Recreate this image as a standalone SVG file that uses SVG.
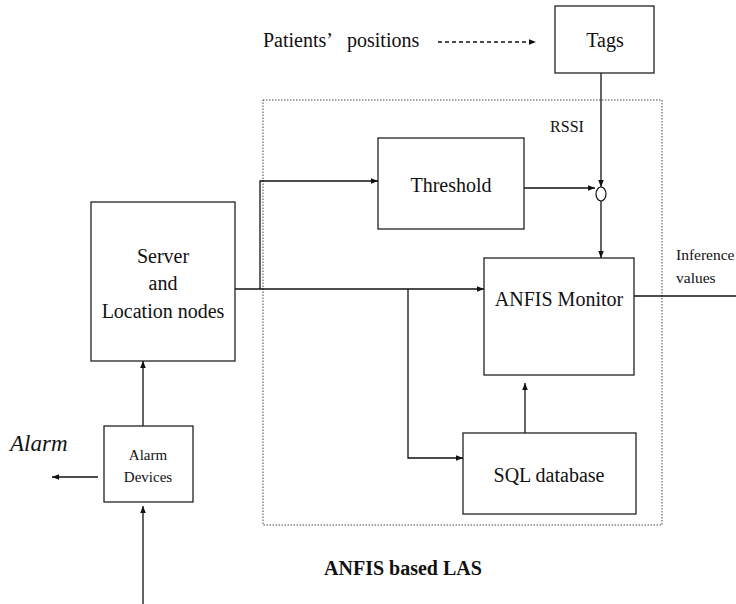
<svg xmlns="http://www.w3.org/2000/svg" width="736" height="604" viewBox="0 0 736 604">
<style>
.box{fill:#fff;stroke:#222;stroke-width:1.3}
.ln{fill:none;stroke:#111;stroke-width:1.3}
text{font-family:'Liberation Serif','DejaVu Serif',serif;fill:#111;text-anchor:middle}
.big{font-size:20px}
.sm{font-size:15.5px}
</style>
<defs>
<marker id="ah" viewBox="0 0 10 10" refX="10" refY="5" markerWidth="7" markerHeight="7" markerUnits="userSpaceOnUse" orient="auto">
<path d="M0,1 L10,5 L0,9 Z" fill="#111"/>
</marker>
</defs>
<rect x="263" y="100" width="399" height="425" fill="none" stroke="#444" stroke-width="1" stroke-dasharray="1.5,1.5"/>
<g id="connectors">
<line class="ln" x1="438" y1="42" x2="536" y2="42" stroke-dasharray="4,3" marker-end="url(#ah)"/>
<line class="ln" x1="601" y1="73" x2="601" y2="187" marker-end="url(#ah)"/>
<line class="ln" x1="524" y1="188" x2="595" y2="188" marker-end="url(#ah)"/>
<line class="ln" x1="601" y1="201" x2="601" y2="258" marker-end="url(#ah)"/>
<line class="ln" x1="235" y1="289" x2="484" y2="289" marker-end="url(#ah)"/>
<polyline class="ln" points="260,289 260,181 378,181" marker-end="url(#ah)"/>
<polyline class="ln" points="408,289 408,458 463,458" marker-end="url(#ah)"/>
<line class="ln" x1="525" y1="433" x2="525" y2="383" marker-end="url(#ah)"/>
<line class="ln" x1="634" y1="296" x2="736" y2="296"/>
<line class="ln" x1="143" y1="426" x2="143" y2="361" marker-end="url(#ah)"/>
<line class="ln" x1="98" y1="477" x2="52" y2="477" marker-end="url(#ah)"/>
<line class="ln" x1="143" y1="604" x2="143" y2="506" marker-end="url(#ah)"/>
</g>
<g id="patients">
<text class="big" x="263" y="47" style="text-anchor:start">Patients’<tspan x="347">positions</tspan></text>
</g>
<g id="tags">
<rect class="box" x="555" y="6" width="99" height="67"/>
<text class="big" x="605" y="47">Tags</text>
</g>
<g id="rssi">
<text x="567" y="132" font-size="16">RSSI</text>
</g>
<g id="threshold">
<rect class="box" x="378" y="138" width="146" height="91"/>
<text class="big" x="451" y="192">Threshold</text>
</g>
<g id="junction">
<ellipse cx="601" cy="194" rx="5" ry="7" fill="#fff" stroke="#111" stroke-width="1.2"/>
</g>
<g id="anfis">
<rect class="box" x="484" y="258" width="150" height="117"/>
<text class="big" x="559" y="306">ANFIS Monitor</text>
</g>
<g id="inference">
<text class="sm" x="676" y="260" style="text-anchor:start">Inference</text>
<text class="sm" x="676" y="283" style="text-anchor:start">values</text>
</g>
<g id="server">
<rect class="box" x="91" y="202" width="144" height="159"/>
<text class="big" x="163" y="263">Server</text>
<text class="big" x="163" y="290">and</text>
<text class="big" x="163" y="318">Location nodes</text>
</g>
<g id="sql">
<rect class="box" x="463" y="433" width="173" height="81"/>
<text class="big" x="549" y="482">SQL database</text>
</g>
<g id="alarmdev">
<rect class="box" x="104" y="426" width="89" height="76"/>
<text x="148" y="460" font-size="15">Alarm</text>
<text x="148" y="482" font-size="15">Devices</text>
</g>
<g id="alarm">
<text x="10" y="451" style="text-anchor:start;font-style:italic" font-size="23">Alarm</text>
</g>
<g id="title">
<text x="403" y="575" font-size="20" font-weight="bold">ANFIS based LAS</text>
</g>
</svg>
